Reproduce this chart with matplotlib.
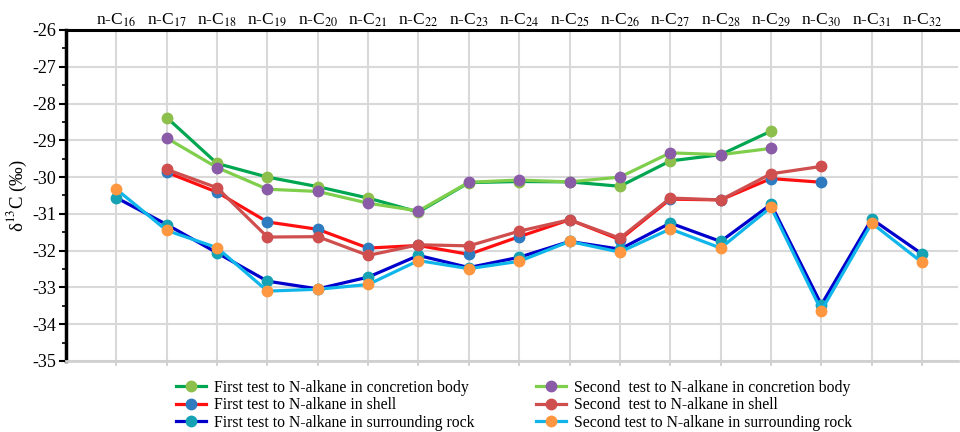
import numpy as np
import matplotlib
matplotlib.use('Agg')
import matplotlib.pyplot as plt
from matplotlib.ticker import MultipleLocator

plt.rcParams['font.family'] = ['Liberation Serif', 'DejaVu Serif']
plt.rcParams['mathtext.fontset'] = 'stix'
plt.rcParams['axes.unicode_minus'] = False

nan = np.nan
carbons = list(range(16, 33))
labels = ['n-C$_{%d}$' % c for c in carbons]

# delta13C values (per mil), n-C16 ... n-C32
conc_1 = [nan, -28.38, -29.63, -30.00, -30.26, -30.57, -30.95, -30.15, -30.12, -30.13, -30.25, -29.56, -29.39, -28.75, nan, nan, nan]
shell_1 = [nan, -29.87, -30.41, -31.22, -31.42, -31.93, -31.86, -32.10, -31.62, -31.16, -31.70, -30.60, -30.62, -30.04, -30.14, nan, nan]
rock_1 = [-30.56, -31.29, -32.06, -32.83, -33.04, -32.72, -32.13, -32.46, -32.18, -31.75, -31.96, -31.25, -31.75, -30.74, -33.47, -31.14, -32.09]
conc_2 = [nan, -28.94, -29.74, -30.33, -30.39, -30.71, -30.92, -30.14, -30.08, -30.13, -30.00, -29.34, -29.39, -29.22, nan, nan, nan]
shell_2 = [nan, -29.79, -30.29, -31.63, -31.62, -32.13, -31.84, -31.87, -31.47, -31.16, -31.66, -30.57, -30.62, -29.91, -29.71, nan, nan]
rock_2 = [-30.33, -31.45, -31.92, -33.10, -33.05, -32.92, -32.27, -32.49, -32.29, -31.75, -32.04, -31.41, -31.93, -30.82, -33.63, -31.25, -32.32]

series = [
    (conc_1, '#00a650', '#8cbf4b', 'First test to N-alkane in concretion body'),
    (shell_1, '#ff1010', '#2f7bc0', 'First test to N-alkane in shell'),
    (rock_1, '#0000cc', '#15a2b4', 'First test to N-alkane in surrounding rock'),
    (conc_2, '#80cf4c', '#8a5ca8', 'Second  test to N-alkane in concretion body'),
    (shell_2, '#cf4e4e', '#cf4e4e', 'Second  test to N-alkane in shell'),
    (rock_2, '#10b6ea', '#ff9740', 'Second test to N-alkane in surrounding rock'),
]

fig = plt.figure(figsize=(9.6, 4.32), dpi=100)
ax = fig.add_axes([0.06875, 0.1644, 0.9295, 0.7662])

x = np.arange(1, len(carbons) + 1)
for vals, lc, mc, lab in series:
    ax.plot(x, vals, color=lc, lw=2.3, marker='o', ms=7.5,
            markerfacecolor=mc, markeredgecolor=mc, label=lab)

ax.set_xlim(0, 17.72)
ax.set_ylim(-35, -26)
ax.xaxis.tick_top()
ax.set_xticks(x)
ax.set_xticklabels(labels, fontsize=12.5)
ax.tick_params(axis='x', top=False, bottom=True, labeltop=True, labelbottom=False,
               pad=1, length=0)
ax.yaxis.set_major_locator(MultipleLocator(1))
ax.yaxis.set_minor_locator(MultipleLocator(0.5))
ax.tick_params(axis='y', which='major', length=5, width=1.5, labelsize=13, pad=2)
ax.tick_params(axis='y', which='minor', length=3, width=1.2)
ax.set_ylabel('δ$^{13}$C (‰)', fontsize=13.5, labelpad=2)

ax.grid(True, color='#d9d9d9', lw=1.5)
ax.set_axisbelow(True)
ax.spines['right'].set_visible(False)
ax.spines['left'].set_linewidth(2.5)
ax.spines['top'].set_linewidth(2.2)
ax.spines['bottom'].set_color('#d0d0d0')
ax.spines['bottom'].set_linewidth(2)

# small gray ticks under the bottom line
for xi in x:
    ax.plot([xi, xi], [-35, -35.12], color='#c8c8c8', lw=1.2, clip_on=False)

ax.legend(loc='upper left', bbox_to_anchor=(0.116, -0.037), ncol=2, frameon=False,
          fontsize=11.3, handlelength=1.9, handletextpad=0.55, columnspacing=3.9,
          labelspacing=0.1, borderaxespad=0)

plt.savefig('out.png', dpi=100)
